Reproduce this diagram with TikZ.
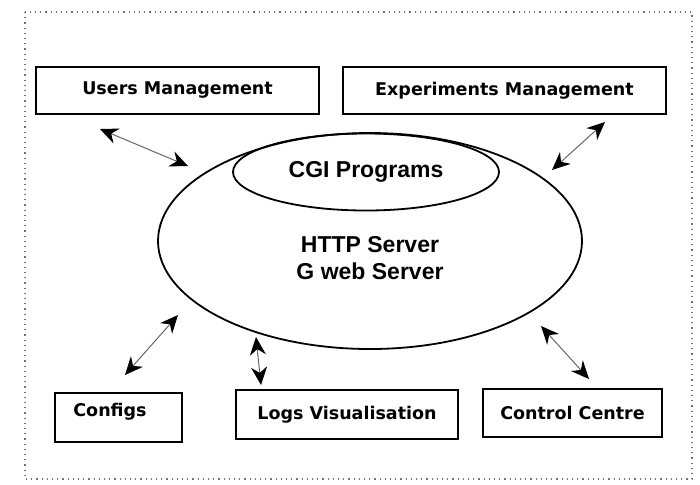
\documentclass[tikz,border=0pt]{standalone}
\usepackage{fontspec}
\setmainfont{DejaVu Sans}
\newfontfamily\arialfont{Liberation Sans}
\usetikzlibrary{arrows.meta,shapes.geometric}
\begin{document}
\begin{tikzpicture}[x=0.5pt,y=-0.5pt]
      \tikzstyle{box}=[
        draw,
        rectangle,
        line width=1pt,
        inner sep=0pt,
        anchor=center,
        font=\fontsize{8.75}{10}\selectfont\bfseries
      ]
      \tikzstyle{oval}=[
        draw,
        ellipse,
        line width=0.9pt,
        inner sep=0pt,
        anchor=center
      ]
      \tikzstyle{arrow} = [line width=0.5pt, draw=black!60, {Stealth[length=9pt,width=8pt,black]}-{Stealth[length=9pt,width=8pt,black]}]
      \tikzstyle{ovaltext} = [font=\arialfont\fontsize{11.5}{13.5}\selectfont\bfseries, align=center]

      % frame
      \useasboundingbox (0,0) rectangle (700,484);
      \draw[black!55, line width=0.6pt, dotted] (25,12) rectangle (692,479);

      \node[box, minimum width=141.5pt, minimum height=23.5pt] (users)   at (177.5,90.5) {Users Management};
      \node[box, minimum width=161.5pt, minimum height=23.5pt] (expts)   at (504.5,90.5) {Experiments Management};
      \node[box, minimum width=63.5pt,  minimum height=24.5pt] (configs) at (118.5,417.5) {\hspace*{-8.5pt}\raisebox{3pt}[\height][\depth]{Configs}};
      \node[box, minimum width=111pt,   minimum height=24.5pt] (logs)    at (347,414.5) {Logs Visualisation};
      \node[box, minimum width=89.5pt,  minimum height=24pt]   (control) at (572.5,413) {Control Centre};

      \node[oval, minimum width=212pt, minimum height=108pt] (server) at (370,241) {};
      \node[oval, minimum width=133pt, minimum height=38.5pt] (cgi) at (366,172) {};
      \node[ovaltext] (cgitext) at (cgi.center) {CGI Programs};
      \node[ovaltext] (srvtext) at (370,258.5) {HTTP Server\\G web Server};

      \coordinate (usersend)   at (100,129);
      \coordinate (usersrv)    at (188,166);
      \coordinate (exptsend)   at (605,122);
      \coordinate (exptsrv)    at (552,170);
      \coordinate (configsend) at (125,375);
      \coordinate (configsrv)  at (178,315);
      \coordinate (logssrv)    at (256,337);
      \coordinate (logsend)    at (261,385);
      \coordinate (controlsrv) at (541,326);
      \coordinate (controlend) at (589,379);

      \draw[arrow] (usersend) -- (usersrv);
      \draw[arrow] (exptsend) -- (exptsrv);
      \draw[arrow] (configsend) -- (configsrv);
      \draw[arrow] (logssrv) -- (logsend);
      \draw[arrow] (controlsrv) -- (controlend);
    \end{tikzpicture}
\end{document}
